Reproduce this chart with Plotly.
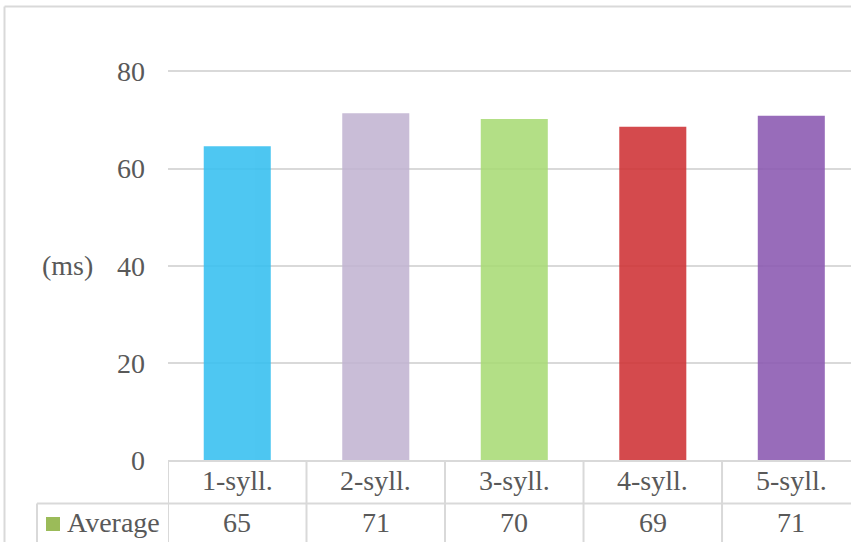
import plotly.graph_objects as go

# Mean durations per word length (ms)
categories = ["1-syll.", "2-syll.", "3-syll.", "4-syll.", "5-syll."]
average_ms = [64.6, 71.4, 70.2, 68.6, 70.9]
series_name = "Average"
y_ticks = [0, 20, 40, 60, 80]
bar_colors = ["rgb(53,191,240)", "rgb(194,180,210)", "rgb(169,219,118)",
              "rgb(207,50,53)", "rgb(138,88,177)"]

FONT = "Liberation Serif"
FS = 28
TXT = "#595959"
LINE = "#D9D9D9"

W, H = 851, 542
L, R, T, B = 168, 0, 70, 82
PW, PH = W - L - R, H - T - B


def xp(px):
    return (px - L) / PW


def yp(py):
    return (H - B - py) / PH


fig = go.Figure()
fig.add_trace(go.Bar(
    x=list(range(len(categories))), y=average_ms, width=0.484,
    marker=dict(color=bar_colors, line=dict(width=0)), opacity=0.88,
    name=series_name, showlegend=False, hoverinfo="y",
))

shapes = []


def hline(x0, x1, y, ref_x="paper", w=1.5):
    shapes.append(dict(type="line", xref=ref_x, yref="paper", x0=x0, x1=x1,
                       y0=yp(y), y1=yp(y), line=dict(color=LINE, width=w), layer="above"))


def vline(x, y0, y1, ref_x="paper", w=1.5):
    shapes.append(dict(type="line", xref=ref_x, yref="paper", x0=x, x1=x,
                       y0=yp(y0), y1=yp(y1), line=dict(color=LINE, width=w), layer="above"))


# outer chart frame
hline(xp(4.5), xp(851), 6.5, w=2)
vline(xp(4.5), 6.5, 545, w=2)

# data table grid
hline(xp(168), xp(853), 461, w=2)
hline(xp(37), xp(853), 503.5, w=2)
vline(xp(37), 503.5, 545, w=2)
for i in range(len(categories)):
    vline(i - 0.5, 461, 545, ref_x="x", w=2)

annotations = []
for i, (c, v) in enumerate(zip(categories, average_ms)):
    annotations.append(dict(x=i, y=yp(480), xref="x", yref="paper", text=c,
                            showarrow=False, xanchor="center", yanchor="middle",
                            font=dict(family=FONT, size=FS, color=TXT)))
    annotations.append(dict(x=i, y=yp(522), xref="x", yref="paper", text=f"{v:.0f}",
                            showarrow=False, xanchor="center", yanchor="middle",
                            font=dict(family=FONT, size=FS, color=TXT)))

# series key and name in the table
shapes.append(dict(type="rect", xref="paper", yref="paper", x0=xp(46), x1=xp(60),
                   y0=yp(531), y1=yp(517), fillcolor="#9BBB59", line=dict(width=0),
                   layer="above"))
annotations.append(dict(x=xp(65), y=yp(522), xref="paper", yref="paper", text=series_name,
                        showarrow=False, xanchor="left", yanchor="middle",
                        font=dict(family=FONT, size=FS, color=TXT)))

# axis unit label
annotations.append(dict(x=xp(67), y=yp(265), xref="paper", yref="paper", text="(ms)",
                        showarrow=False, xanchor="center", yanchor="middle",
                        font=dict(family=FONT, size=FS, color=TXT)))

fig.update_layout(
    width=W, height=H,
    margin=dict(l=L, r=R, t=T, b=B, pad=0),
    paper_bgcolor="white", plot_bgcolor="white",
    bargap=0.5,
    shapes=shapes, annotations=annotations,
    xaxis=dict(range=[-0.5, 4.431], showticklabels=False, showgrid=False,
               zeroline=False, showline=False, ticks="", fixedrange=True),
    yaxis=dict(range=[0, 80.3], tickvals=y_ticks, ticktext=[str(t) for t in y_ticks],
               showgrid=True, gridcolor=LINE, gridwidth=1.5, zeroline=False,
               showline=False, ticks="", ticklabelstandoff=22,
               tickfont=dict(family=FONT, size=FS, color=TXT), fixedrange=True),
)

fig.write_html("out.html")
